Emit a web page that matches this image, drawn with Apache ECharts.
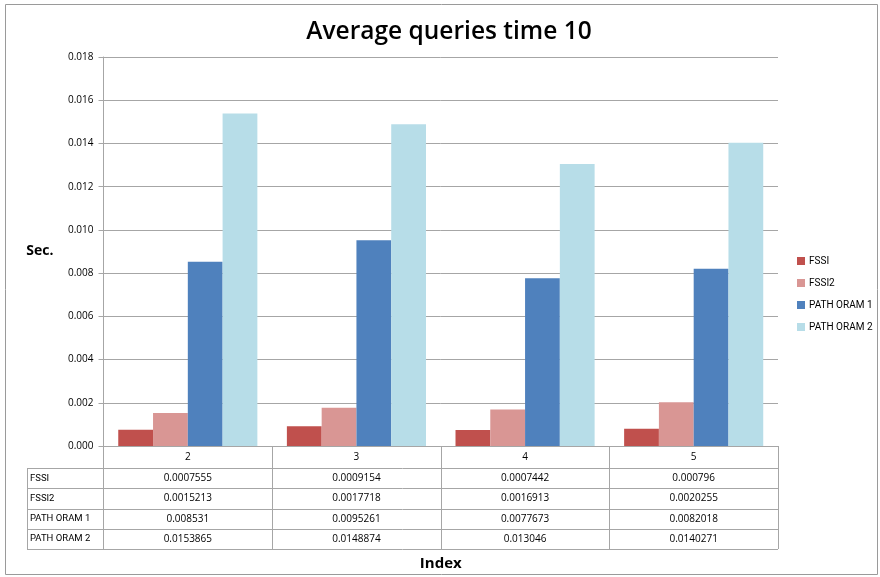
<!DOCTYPE html>
<html>
<head>
<meta charset="utf-8">
<script src="https://cdn.jsdelivr.net/npm/echarts@6/dist/echarts.min.js"></script>
<style>
  html, body { margin: 0; padding: 0; background: #fff; }
  #chart { width: 880px; height: 577px; }
</style>
</head>
<body>
<div id="chart"></div>
<script>
// Index sizes on the x axis
const categories = ['2', '3', '4', '5'];
// Average query time (seconds) per index
const seriesNames = ['FSSI', 'FSSI2', 'PATH ORAM 1', 'PATH ORAM 2'];
const fssi = [0.0007555, 0.0009154, 0.0007442, 0.000796];
const fssi2 = [0.0015213, 0.0017718, 0.0016913, 0.0020255];
const pathOram1 = [0.008531, 0.0095261, 0.0077673, 0.0082018];
const pathOram2 = [0.0153865, 0.0148874, 0.013046, 0.0140271];
const seriesValues = [fssi, fssi2, pathOram1, pathOram2];
const colors = ['#C0504D', '#D99694', '#4F81BD', '#B7DDE8'];

const FONT = '"Open Sans", "Liberation Sans", sans-serif';
const NARROW = 'Roboto, "Liberation Sans", sans-serif';
const LINE = '#A6A6A6';

const chart = echarts.init(document.getElementById('chart'));

const option = {
  animation: false,
  backgroundColor: '#fff',
  title: {
    text: 'Average queries time 10',
    left: 444,
    textAlign: 'center',
    top: 15,
    textStyle: { fontFamily: FONT, fontSize: 24.5, fontWeight: 600, color: '#000' }
  },
  legend: {
    orient: 'vertical',
    left: 792,
    top: 250,
    itemWidth: 8,
    itemHeight: 8,
    itemGap: 10,
    icon: 'rect',
    textStyle: { fontFamily: NARROW, fontSize: 10, color: '#000', padding: [0, 0, 0, -1], lineHeight: 12 },
    data: seriesNames
  },
  grid: { left: 103.5, right: 102, top: 57, bottom: 131 },
  xAxis: {
    type: 'category',
    data: categories,
    name: 'Index',
    nameLocation: 'middle',
    nameGap: 110,
    nameTextStyle: { fontFamily: FONT, fontSize: 15, fontWeight: 'bold', color: '#000' },
    axisLine: { lineStyle: { color: LINE, width: 1 } },
    axisTick: { show: true, length: 103, lineStyle: { color: LINE } },
    axisLabel: { fontFamily: FONT, fontSize: 10, color: '#000', margin: 6 }
  },
  yAxis: {
    type: 'value',
    min: 0,
    max: 0.018,
    interval: 0.002,
    name: 'Sec.',
    nameLocation: 'middle',
    nameRotate: 0,
    nameGap: 50,
    nameTextStyle: { fontFamily: FONT, fontSize: 14, fontWeight: 'bold', color: '#000' },
    axisLine: { show: true, lineStyle: { color: LINE } },
    axisTick: { show: true, length: 5, lineStyle: { color: LINE } },
    axisLabel: {
      fontFamily: FONT, fontSize: 10, color: '#000', margin: 10,
      formatter: v => v.toFixed(3)
    },
    splitLine: { show: true, lineStyle: { color: LINE, width: 1 } }
  },
  series: seriesNames.map((name, i) => ({
    name,
    type: 'bar',
    data: seriesValues[i],
    barGap: '0%',
    barCategoryGap: '17.5%',
    itemStyle: { color: colors[i] }
  }))
};

chart.setOption(option);

// Data table underneath the plot, aligned with the category bands
function buildTable() {
  const x0 = chart.convertToPixel({ xAxisIndex: 0 }, categories[0]);
  const x1 = chart.convertToPixel({ xAxisIndex: 0 }, categories[1]);
  const band = x1 - x0;
  const rightEdge = chart.convertToPixel({ xAxisIndex: 0 }, categories[categories.length - 1]) + band / 2;
  const axisY = chart.convertToPixel({ yAxisIndex: 0 }, 0);
  const tableLeft = 27;
  const headerH = 22;
  const rowH = 20.3;
  const elements = [];

  // outer frame of the whole chart
  elements.push({
    type: 'rect', silent: true,
    shape: { x: 5.5, y: 4.5, width: 872, height: 570 },
    style: { fill: null, stroke: '#9a9a9a', lineWidth: 1 }
  });

  const rowsTop = axisY + headerH;
  for (let r = 0; r <= seriesNames.length; r++) {
    const y = Math.round(rowsTop + r * rowH) + 0.5;
    elements.push({
      type: 'line', silent: true,
      shape: { x1: tableLeft, y1: y, x2: rightEdge, y2: y },
      style: { stroke: LINE, lineWidth: 1 }
    });
  }
  elements.push({
    type: 'line', silent: true,
    shape: { x1: tableLeft + 0.5, y1: Math.round(rowsTop) + 0.5, x2: tableLeft + 0.5, y2: Math.round(rowsTop + seriesNames.length * rowH) + 0.5 },
    style: { stroke: LINE, lineWidth: 1 }
  });

  seriesNames.forEach((name, r) => {
    const cy = rowsTop + (r + 0.5) * rowH;
    elements.push({
      type: 'text', silent: true,
      style: {
        x: tableLeft + 3, y: cy, text: name,
        font: '9.5px ' + NARROW, fill: '#000',
        align: 'left', verticalAlign: 'middle'
      }
    });
    seriesValues[r].forEach((v, c) => {
      const cx = chart.convertToPixel({ xAxisIndex: 0 }, categories[c]);
      elements.push({
        type: 'text', silent: true,
        style: {
          x: cx, y: cy, text: String(v),
          font: '10px ' + FONT, fill: '#000',
          align: 'center', verticalAlign: 'middle'
        }
      });
    });
  });

  chart.setOption({ graphic: { elements } });
}

buildTable();
</script>
</body>
</html>
